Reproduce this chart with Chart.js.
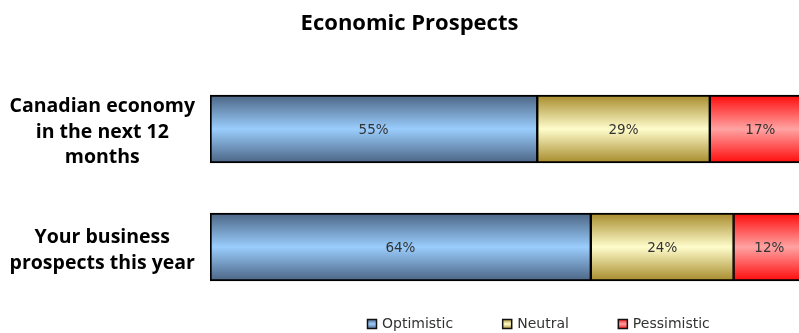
<!DOCTYPE html>
<html>
<head>
<meta charset="utf-8">
<script src="https://cdn.jsdelivr.net/npm/chart.js@4/dist/chart.umd.min.js"></script>
<style>
  html, body { margin: 0; padding: 0; background: #fff; overflow: hidden; }
  #wrap { position: relative; width: 805px; height: 333px; }
</style>
</head>
<body>
<div id="wrap"><canvas id="c"></canvas></div>
<script>
// Survey categories (multi-line labels) and share of responses, in percent
const categories = [
  ['Canadian economy', 'in the next 12', 'months'],
  ['Your business', 'prospects this year']
];
const seriesNames = ['Optimistic', 'Neutral', 'Pessimistic'];
const optimistic = [55, 64];
const neutral = [29, 24];
const pessimistic = [17, 12];

// Edge / centre colours of the vertical gradient used for each series
const shades = {
  Optimistic: ['#4b6483', '#9acdfd'],
  Neutral: ['#a68a2a', '#fffdcc'],
  Pessimistic: ['#ff0a0a', '#ffa3a3']
};

function barGradient(name) {
  return (c) => {
    const chart = c.chart;
    const [edge, mid] = shades[name];
    if (!chart.chartArea || c.type !== 'data') return mid;
    const el = c.element;
    let top, bottom;
    if (el && el.height) {
      top = el.y - el.height / 2;
      bottom = el.y + el.height / 2;
    } else {
      const y = chart.scales.y.getPixelForValue(c.dataIndex);
      top = y - 34; bottom = y + 34;
    }
    const g = chart.ctx.createLinearGradient(0, top, 0, bottom);
    g.addColorStop(0, edge);
    g.addColorStop(0.5, mid);
    g.addColorStop(1, edge);
    return g;
  };
}

function makeSet(name, values, first) {
  return {
    label: name,
    data: values,
    backgroundColor: barGradient(name),
    borderColor: '#000',
    borderWidth: { top: 2, bottom: 2, left: first ? 2 : 1.5, right: 1.5 },
    borderSkipped: false,
    barThickness: 68
  };
}

// Value labels centred inside each segment
const valueLabels = {
  id: 'valueLabels',
  afterDatasetsDraw(chart) {
    const ctx = chart.ctx;
    ctx.save();
    ctx.font = '13.5px "DejaVu Sans"';
    ctx.fillStyle = '#333';
    ctx.textAlign = 'center';
    ctx.textBaseline = 'middle';
    chart.data.datasets.forEach((ds, i) => {
      chart.getDatasetMeta(i).data.forEach((bar, j) => {
        const p = bar.getCenterPoint();
        ctx.fillText(ds.data[j] + '%', p.x, p.y + 1);
      });
    });
    ctx.restore();
  }
};

// Legend row along the bottom with small gradient swatches
const bottomLegend = {
  id: 'bottomLegend',
  afterDraw(chart) {
    const ctx = chart.ctx;
    ctx.save();
    ctx.font = '14px "DejaVu Sans"';
    ctx.textBaseline = 'middle';
    let x = 367;
    const y = 324;
    chart.data.datasets.forEach((ds) => {
      const [edge, mid] = shades[ds.label];
      const g = ctx.createLinearGradient(0, y - 5, 0, y + 5);
      g.addColorStop(0, edge);
      g.addColorStop(0.5, mid);
      g.addColorStop(1, edge);
      ctx.fillStyle = g;
      ctx.fillRect(x, y - 5, 10, 10);
      ctx.strokeStyle = '#111';
      ctx.lineWidth = 1.5;
      ctx.strokeRect(x + 0.5, y - 4.5, 9, 9);
      ctx.fillStyle = '#333';
      ctx.fillText(ds.label, x + 15, y);
      x += 15 + ctx.measureText(ds.label).width + 49;
    });
    ctx.restore();
  }
};

// Nudge the title slightly right of the canvas centre
const titleShift = {
  id: 'titleShift',
  afterLayout(chart) {
    const t = chart.titleBlock;
    if (t) { t.left += 7; t.right += 7; }
  }
};

new Chart(document.getElementById('c'), {
  type: 'bar',
  data: {
    labels: categories,
    datasets: [
      makeSet(seriesNames[0], optimistic, true),
      makeSet(seriesNames[1], neutral, false),
      makeSet(seriesNames[2], pessimistic, false)
    ]
  },
  options: {
    indexAxis: 'y',
    responsive: true,
    maintainAspectRatio: false,
    animation: false,
    layout: { padding: { left: 0, right: 0, top: 0, bottom: 27 } },
    plugins: {
      legend: { display: false },
      tooltip: { enabled: false },
      title: {
        display: true,
        text: 'Economic Prospects',
        color: '#000',
        font: { family: '"Open Sans"', size: 22, weight: 'bold', lineHeight: 1.2 },
        padding: { top: 11, bottom: 32.6 }
      }
    },
    scales: {
      x: {
        stacked: true,
        min: 0,
        max: 100,
        display: false
      },
      y: {
        stacked: true,
        grid: { display: false, drawTicks: false },
        border: { display: false },
        afterFit(scale) {
          scale.width = 210;
          scale.paddingTop = 0;
          scale.paddingBottom = 0;
        },
        ticks: {
          crossAlign: 'center',
          padding: 15,
          labelOffset: 3,
          color: '#000',
          font: { family: '"Open Sans"', size: 19.5, weight: 'bold', lineHeight: 1.33 }
        }
      }
    }
  },
  plugins: [valueLabels, bottomLegend, titleShift]
});
</script>
</body>
</html>
